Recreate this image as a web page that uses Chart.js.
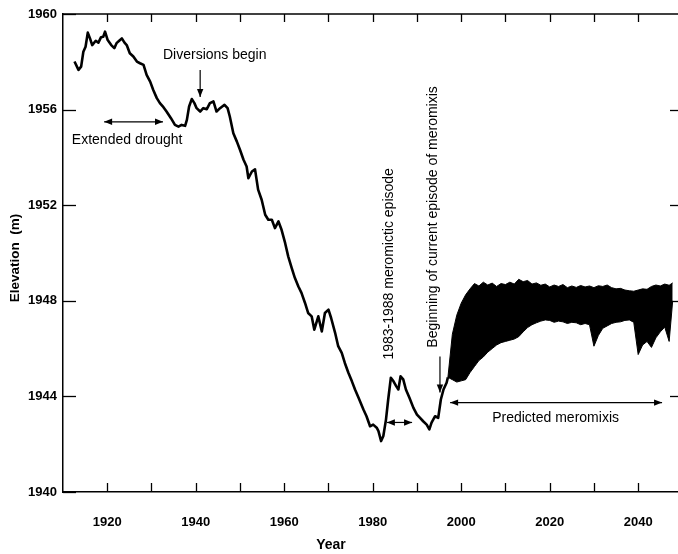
<!DOCTYPE html>
<html>
<head>
<meta charset="utf-8">
<script src="https://cdn.jsdelivr.net/npm/chart.js@4.4.0/dist/chart.umd.min.js"></script>
<style>
html,body{margin:0;padding:0;background:#fff;}
canvas{display:block;}
</style>
</head>
<body>
<canvas id="c" width="678" height="554"></canvas>
<script>
// ---------- DATA ----------
const histYears = [1912.6,1913.5,1914.1,1914.6,1915.1,1915.6,1916.1,1916.6,1917.4,1918.0,1918.6,1919.1,1919.5,1920.1,1920.9,1921.6,1922.1,1922.7,1923.3,1923.9,1924.4,1925.1,1925.9,1926.7,1927.4,1928.2,1928.9,1929.7,1930.4,1931.2,1931.9,1932.7,1933.4,1934.4,1935.3,1936.1,1936.8,1937.6,1938.0,1938.5,1939.1,1939.7,1940.2,1941.0,1941.7,1942.5,1943.2,1944.0,1944.7,1945.5,1946.5,1947.2,1947.7,1948.5,1949.3,1950.0,1950.8,1951.5,1951.9,1952.7,1953.4,1954.1,1954.9,1955.7,1956.4,1957.2,1957.9,1958.7,1959.4,1960.2,1960.9,1961.7,1962.4,1963.2,1963.9,1964.7,1965.4,1966.2,1966.8,1967.7,1968.5,1969.2,1970.0,1970.6,1971.5,1972.2,1973.0,1973.7,1974.5,1975.3,1976.0,1976.8,1977.9,1978.6,1979.4,1980.1,1980.9,1981.3,1981.9,1982.4,1983.0,1983.5,1984.1,1984.7,1985.3,1985.8,1986.3,1986.9,1987.5,1988.3,1989.2,1990.0,1990.7,1991.4,1992.2,1992.8,1993.3,1994.1,1994.8,1995.4,1996.0,1996.7,1997.0];
const histElev = [1958.01,1957.66,1957.8,1958.42,1958.63,1959.22,1958.98,1958.7,1958.88,1958.8,1959.03,1959.05,1959.26,1958.91,1958.7,1958.57,1958.78,1958.88,1958.98,1958.8,1958.7,1958.36,1958.22,1958.01,1957.94,1957.87,1957.45,1957.17,1956.82,1956.48,1956.27,1956.1,1955.92,1955.64,1955.36,1955.29,1955.36,1955.32,1955.57,1956.13,1956.44,1956.27,1956.06,1955.92,1956.06,1956.02,1956.27,1956.34,1955.92,1956.06,1956.2,1956.06,1955.71,1955.01,1954.66,1954.32,1953.9,1953.62,1953.13,1953.41,1953.5,1952.65,1952.23,1951.6,1951.39,1951.39,1951.04,1951.32,1950.97,1950.42,1949.86,1949.37,1948.96,1948.6,1948.33,1947.91,1947.49,1947.35,1946.79,1947.35,1946.72,1947.49,1947.63,1947.28,1946.66,1946.1,1945.82,1945.4,1944.99,1944.63,1944.29,1943.94,1943.45,1943.17,1942.75,1942.82,1942.69,1942.55,1942.13,1942.34,1943.03,1943.87,1944.78,1944.63,1944.43,1944.29,1944.84,1944.71,1944.29,1943.94,1943.52,1943.24,1943.1,1942.96,1942.82,1942.62,1942.9,1943.17,1943.1,1943.87,1944.29,1944.57,1944.8];

const predYears = [1997,1998,1999,2000,2001,2002,2003,2004,2005,2006,2007,2008,2009,2010,2011,2012,2013,2014,2015,2016,2017,2018,2019,2020,2021,2022,2023,2024,2025,2026,2027,2028,2029,2030,2031,2032,2033,2034,2035,2036,2037,2038,2039,2040,2041,2042,2043,2044,2045,2046,2047,2047.8];
const predLow = [1944.8,1944.7,1944.6,1944.65,1944.7,1945.0,1945.25,1945.5,1945.65,1945.85,1946.0,1946.15,1946.25,1946.3,1946.35,1946.4,1946.5,1946.7,1946.88,1947.0,1947.08,1947.15,1947.2,1947.18,1947.1,1947.15,1947.12,1947.05,1947.1,1947.08,1947.0,1947.05,1947.0,1946.1,1946.55,1946.85,1946.95,1947.05,1947.1,1947.12,1947.18,1947.2,1947.1,1945.75,1946.15,1946.3,1946.05,1946.45,1946.7,1946.9,1946.3,1948.0];
const predHigh = [1944.8,1946.6,1947.4,1947.9,1948.25,1948.5,1948.72,1948.62,1948.78,1948.66,1948.74,1948.6,1948.72,1948.68,1948.78,1948.7,1948.9,1948.8,1948.85,1948.7,1948.75,1948.65,1948.7,1948.58,1948.66,1948.6,1948.68,1948.55,1948.62,1948.56,1948.64,1948.58,1948.62,1948.55,1948.63,1948.6,1948.66,1948.55,1948.5,1948.52,1948.45,1948.42,1948.4,1948.45,1948.5,1948.48,1948.6,1948.66,1948.62,1948.7,1948.65,1948.75];

const xTickMarks = [1920,1930,1940,1950,1960,1970,1980,1990,2000,2010,2020,2030,2040];
const xTickLabels = [1920,1940,1960,1980,2000,2020,2040];
const yTickValues = [1940,1944,1948,1952,1956,1960];

// ---------- ANNOTATIONS (data coords) ----------
const notes = [
  {text:'Diversions begin', x:1932.6, y:1958.29, rot:0},
  {text:'Extended drought', x:1912.0, y:1954.73, rot:0},
  {text:'1983-1988 meromictic episode', x:1983.7, y:1945.54, rot:-90},
  {text:'Beginning of current episode of meromixis', x:1993.6, y:1946.04, rot:-90},
  {text:'Predicted meromixis', x:2007.0, y:1943.08, rot:0}
];
const arrows = [
  {x1:1941.0, y1:1957.66, x2:1941.0, y2:1956.53, both:false},
  {x1:1919.3, y1:1955.49, x2:1932.6, y2:1955.49, both:true},
  {x1:1983.2, y1:1942.91, x2:1988.9, y2:1942.91, both:true},
  {x1:1995.2, y1:1945.67, x2:1995.2, y2:1944.16, both:false},
  {x1:1997.5, y1:1943.74, x2:2045.4, y2:1943.74, both:true}
];

const FONT = '"Liberation Sans", Arial, sans-serif';

function head(ctx, x, y, ang){
  const L = 8, W = 3.2;
  ctx.beginPath();
  ctx.moveTo(x, y);
  ctx.lineTo(x - L*Math.cos(ang) + W*Math.sin(ang), y - L*Math.sin(ang) - W*Math.cos(ang));
  ctx.lineTo(x - L*Math.cos(ang) - W*Math.sin(ang), y - L*Math.sin(ang) + W*Math.cos(ang));
  ctx.closePath();
  ctx.fill();
}

const decor = {
  id:'decor',
  afterDraw(chart){
    const ctx = chart.ctx, ca = chart.chartArea;
    const xs = chart.scales.x, ys = chart.scales.y;
    ctx.save();
    ctx.strokeStyle = '#000'; ctx.fillStyle = '#000';
    // top border
    ctx.lineWidth = 1.5;
    ctx.beginPath(); ctx.moveTo(ca.left, ca.top); ctx.lineTo(ca.right, ca.top); ctx.stroke();
    // inward ticks
    ctx.lineWidth = 1.3;
    xTickMarks.forEach(v=>{
      const px = Math.round(xs.getPixelForValue(v)) + 0.5;
      ctx.beginPath(); ctx.moveTo(px, ca.bottom); ctx.lineTo(px, ca.bottom - 9); ctx.stroke();
      ctx.beginPath(); ctx.moveTo(px, ca.top); ctx.lineTo(px, ca.top + 8); ctx.stroke();
    });
    yTickValues.forEach(v=>{
      const py = Math.round(ys.getPixelForValue(v)) + 0.5;
      ctx.beginPath(); ctx.moveTo(ca.left, py); ctx.lineTo(ca.left + 13, py); ctx.stroke();
      if (v !== 1960 && v !== 1940) {
        ctx.beginPath(); ctx.moveTo(ca.right, py); ctx.lineTo(ca.right - 8, py); ctx.stroke();
      }
    });
    // axis titles
    ctx.font = 'bold 14px ' + FONT;
    ctx.textAlign = 'center'; ctx.textBaseline = 'middle';
    ctx.fillText('Year', 331, 545);
    ctx.save();
    ctx.translate(15, 258); ctx.rotate(-Math.PI/2);
    ctx.font = 'bold 13.5px ' + FONT;
    ctx.fillText('Elevation  (m)', 0, 0);
    ctx.restore();
    // annotation texts
    ctx.font = '14px ' + FONT;
    notes.forEach(n=>{
      const px = xs.getPixelForValue(n.x), py = ys.getPixelForValue(n.y);
      ctx.save();
      ctx.translate(px, py);
      ctx.rotate(n.rot*Math.PI/180);
      ctx.textAlign = 'left'; ctx.textBaseline = 'middle';
      ctx.fillText(n.text, 0, 0);
      ctx.restore();
    });
    // arrows
    ctx.lineWidth = 1.2;
    arrows.forEach(a=>{
      const x1 = xs.getPixelForValue(a.x1), y1 = ys.getPixelForValue(a.y1);
      const x2 = xs.getPixelForValue(a.x2), y2 = ys.getPixelForValue(a.y2);
      ctx.beginPath(); ctx.moveTo(x1, y1); ctx.lineTo(x2, y2); ctx.stroke();
      const ang = Math.atan2(y2-y1, x2-x1);
      head(ctx, x2, y2, ang);
      if (a.both) head(ctx, x1, y1, ang + Math.PI);
    });
    ctx.restore();
  }
};

new Chart(document.getElementById('c'), {
  type:'line',
  data:{
    datasets:[
      {data: histYears.map((x,i)=>({x, y:histElev[i]})), borderColor:'#000', borderWidth:2.6, pointRadius:0, tension:0, fill:false, borderJoinStyle:'round'},
      {data: predYears.map((x,i)=>({x, y:predLow[i]})), borderColor:'#000', borderWidth:1, pointRadius:0, tension:0, fill:false},
      {data: predYears.map((x,i)=>({x, y:predHigh[i]})), borderColor:'#000', borderWidth:1, pointRadius:0, tension:0, fill:'-1', backgroundColor:'#000'}
    ]
  },
  plugins:[decor],
  options:{
    responsive:false, animation:false,
    layout:{padding:{top:14, right:0, left:0, bottom:0}},
    plugins:{legend:{display:false}, tooltip:{enabled:false}},
    scales:{
      x:{
        type:'linear', min:1910, max:2049,
        afterFit(s){ s.height = 62; },
        afterBuildTicks(s){ s.ticks = xTickMarks.map(v=>({value:v})); },
        grid:{drawOnChartArea:false, drawTicks:false},
        border:{display:true, color:'#000', width:1.5},
        ticks:{padding:23, autoSkip:false, maxRotation:0, color:'#000', font:{family:FONT, size:13, weight:'bold'},
          callback:(v)=> xTickLabels.includes(v) ? String(v) : ''}
      },
      y:{
        type:'linear', min:1940, max:1960,
        afterFit(s){ s.width = 63; },
        afterBuildTicks(s){ s.ticks = yTickValues.map(v=>({value:v})); },
        grid:{drawOnChartArea:false, drawTicks:false},
        border:{display:true, color:'#000', width:1.5},
        ticks:{padding:6, color:'#000', font:{family:FONT, size:13, weight:'bold'}, callback:(v)=>String(v)}
      }
    }
  }
});
</script>
</body>
</html>
